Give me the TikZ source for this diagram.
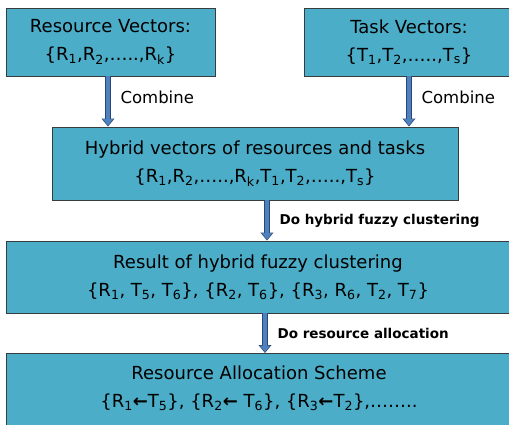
\documentclass[tikz,border=0pt]{standalone}
\usepackage{fontspec}
\setmainfont{DejaVu Sans}
\usetikzlibrary{arrows.meta}
\definecolor{boxfill}{RGB}{75,173,199}
\definecolor{boxedge}{RGB}{55,60,62}
\definecolor{arrowblue}{RGB}{79,129,189}
\definecolor{arrowedge}{RGB}{40,70,120}
\newcommand{\sub}[1]{\textsubscript{#1}}
\begin{document}
\begin{tikzpicture}[x=1pt,y=-1pt,
    box/.style={draw=boxedge,line width=0.9pt,fill=boxfill,align=center,
      inner sep=0pt,font=\fontsize{18}{28}\selectfont},
    flow/.style={draw=arrowedge,line width=6.5pt,-{Triangle[length=8pt,width=12.5pt]},
      postaction={draw=arrowblue,line width=4.5pt,-{Triangle[length=6.5pt,width=9.5pt]},shorten >=0.9pt}},
    step label/.style={right=6pt,font=\fontsize{16.5}{18}\selectfont},
    do label/.style={right=6pt,font=\bfseries\fontsize{13.5}{15}\selectfont}]
    \useasboundingbox (0,0) rectangle (509,425);
    \node[box,minimum width=209pt,minimum height=68pt] (res) at (110.5,42)
      {Resource Vectors:\\\{R\sub{1},R\sub{2},\dots..,R\sub{k}\}};
    \node[box,minimum width=210pt,minimum height=68pt] (task) at (409,42)
      {Task Vectors:\\\{T\sub{1},T\sub{2},\dots..,T\sub{s}\}};
    \node[box,minimum width=406pt,minimum height=73pt] (hyb) at (255,163.5)
      {Hybrid vectors of resources and tasks\\\{R\sub{1},R\sub{2},\dots..,R\sub{k},T\sub{1},T\sub{2},\dots..,T\sub{s}\}};
    \node[box,minimum width=504pt,minimum height=72pt] (clus) at (258,277)
      {Result of hybrid fuzzy clustering\\\{R\sub{1}, T\sub{5}, T\sub{6}\}, \{R\sub{2}, T\sub{6}\}, \{R\sub{3}, R\sub{6}, T\sub{2}, T\sub{7}\}};
    \node[box,minimum width=506pt,minimum height=80pt,anchor=north] (alloc) at (259,353) {};
    \node[align=center,font=\fontsize{18}{28}\selectfont] (alloctext) at (259,388)
      {Resource Allocation Scheme\\\{R\sub{1}\textbf{←}T\sub{5}\}, \{R\sub{2}\textbf{←} T\sub{6}\}, \{R\sub{3}\textbf{←}T\sub{2}\},\dots\dots..};
    % arrows between the stages
    \draw[flow] ([xshift=-2.5pt]res.south) -- ([xshift=-2.5pt]res.south |- hyb.north)
      node[midway,step label,yshift=4pt] {Combine};
    \draw[flow] (task.south) -- (task.south |- hyb.north)
      node[midway,step label,yshift=4pt] {Combine};
    \draw[flow] ([xshift=12pt]hyb.south) -- ([xshift=12pt]hyb.south |- clus.north)
      node[midway,do label] {Do hybrid fuzzy clustering};
    \draw[flow] ([xshift=7pt]clus.south) -- ([xshift=7pt]clus.south |- alloc.north)
      node[midway,do label] {Do resource allocation};
\end{tikzpicture}
\end{document}
